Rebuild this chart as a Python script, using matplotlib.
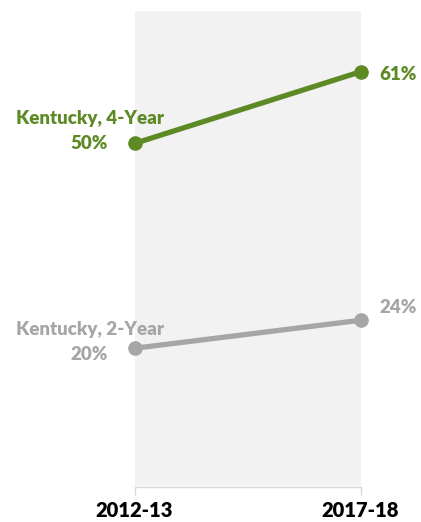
import matplotlib
matplotlib.use("Agg")
import matplotlib.pyplot as plt

years = ["2012-13", "2017-18"]
four_year = [50.1, 60.6]
two_year = [20.1, 24.2]
series_names = ["Kentucky, 4-Year", "Kentucky, 2-Year"]

GREEN = "#5e8a26"
GRAY = "#a6a6a6"
FONT = ["Lato", "DejaVu Sans"]

W, H = 421, 522
fig = plt.figure(figsize=(W / 100, H / 100), dpi=100)
ax_left, ax_right = 134.5, 360.5
ax_top, ax_bottom = 11, 485.5
ax = fig.add_axes([ax_left / W, 1 - ax_bottom / H, (ax_right - ax_left) / W, (ax_bottom - ax_top) / H])
ax.set_facecolor("#f2f2f2")

for s in ["top", "left", "right"]:
    ax.spines[s].set_visible(False)
ax.spines["bottom"].set_position(("outward", 1))
ax.spines["bottom"].set_color("#d9d9d9")
ax.spines["bottom"].set_linewidth(1)

x = list(range(len(years)))
ax.plot(x, four_year, color=GREEN, lw=3.8, marker="o", ms=9.5, clip_on=False, solid_capstyle="round", zorder=3)
ax.plot(x, two_year, color=GRAY, lw=3.8, marker="o", ms=9.5, clip_on=False, solid_capstyle="round", zorder=3)

ax.set_xlim(0, 1)
ax.set_ylim(0, 69.5)
ax.set_yticks([])
ax.set_xticks(x)
ax.set_xticklabels(years)
ax.tick_params(axis="x", length=6, width=1, color="#d9d9d9", pad=4)
for lab in ax.get_xticklabels():
    lab.set_fontsize(14.5)
    lab.set_fontweight("heavy")
    lab.set_family(FONT)
    lab.set_color("black")

TS = 13.5

def left_label(name, val, color, dy_name, dy_val):
    ax.annotate(name, (0, val), xytext=(-45, dy_name), textcoords="offset pixels",
                ha="center", va="center", fontsize=TS, fontweight="heavy", family=FONT, color=color,
                annotation_clip=False)
    ax.annotate(f"{val:.0f}%", (0, val), xytext=(-45, dy_val), textcoords="offset pixels",
                ha="center", va="center", fontsize=TS, fontweight="heavy", family=FONT, color=color,
                annotation_clip=False)

def right_label(val, color, dy):
    ax.annotate(f"{val:.0f}%", (1, val), xytext=(38, dy), textcoords="offset pixels",
                ha="center", va="center", fontsize=TS, fontweight="heavy", family=FONT, color=color,
                annotation_clip=False)

left_label(series_names[0], four_year[0], GREEN, 25, 0)
left_label(series_names[1], two_year[0], GRAY, 19, -6)
right_label(four_year[1], GREEN, -3)
right_label(two_year[1], GRAY, 13)

fig.savefig("out.png", dpi=100)
